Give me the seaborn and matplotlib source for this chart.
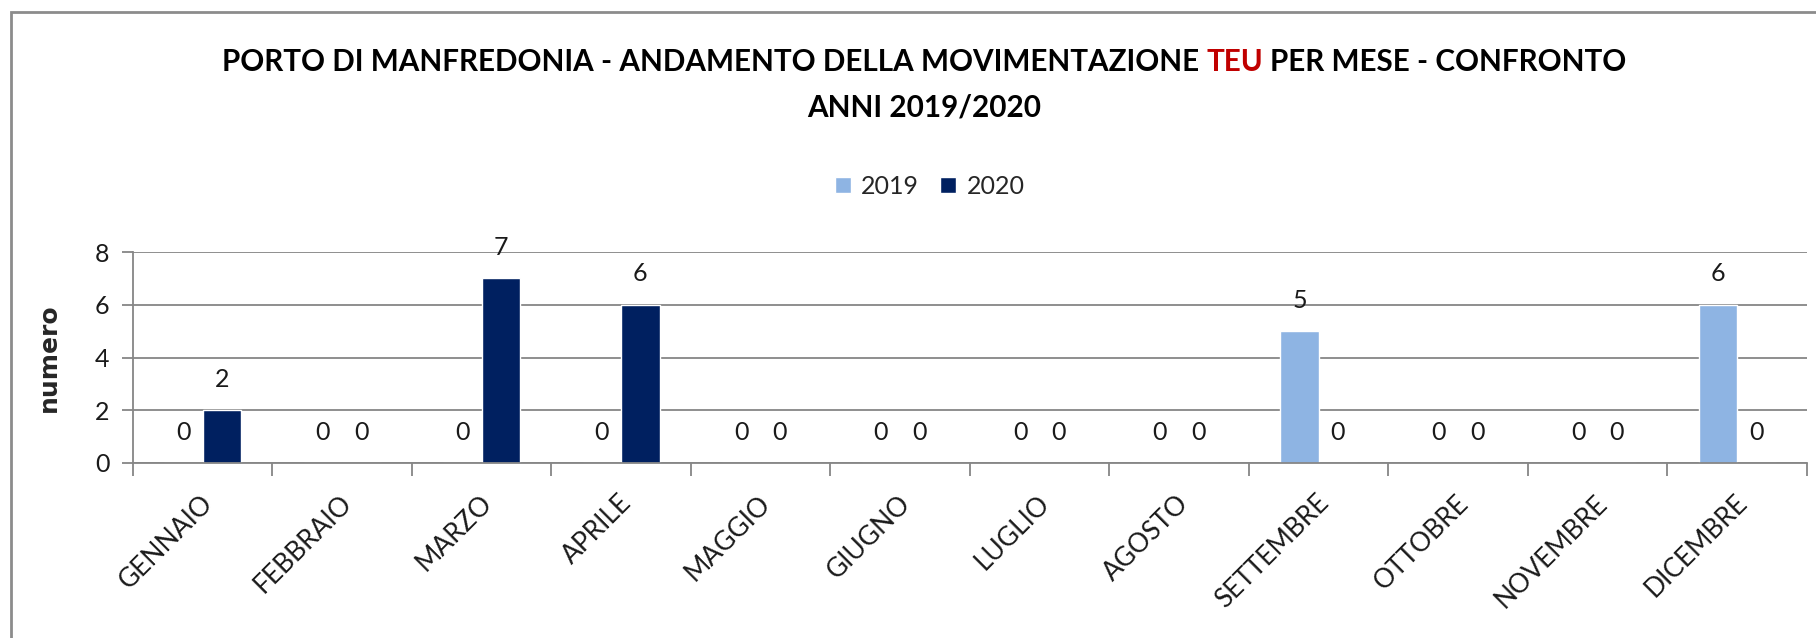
import pandas as pd
import matplotlib.pyplot as plt
import matplotlib.patches as mpatches
import matplotlib.transforms as mtransforms
import numpy as np
import seaborn as sns

mesi = ["GENNAIO", "FEBBRAIO", "MARZO", "APRILE", "MAGGIO", "GIUGNO",
        "LUGLIO", "AGOSTO", "SETTEMBRE", "OTTOBRE", "NOVEMBRE", "DICEMBRE"]
teu_2019 = [0, 0, 0, 0, 0, 0, 0, 0, 5, 0, 0, 6]
teu_2020 = [2, 0, 7, 6, 0, 0, 0, 0, 0, 0, 0, 0]
anni = ["2019", "2020"]
colori = ["#8EB4E3", "#002060"]
y_ticks = [0, 2, 4, 6, 8]

df = pd.DataFrame({
    "mese": mesi * 2,
    "valore": teu_2019 + teu_2020,
    "anno": [anni[0]] * 12 + [anni[1]] * 12,
})

sns.set_style("white")
plt.rcParams["font.family"] = ["Lato", "DejaVu Sans"]

fig = plt.figure(figsize=(18.16, 6.38), dpi=100)
ax = fig.add_axes([0.0732, 0.2743, 0.9218, 0.3307])

sns.barplot(data=df, x="mese", y="valore", hue="anno", order=mesi,
            hue_order=anni, palette=colori, saturation=1, width=0.55,
            gap=0, ax=ax, legend=True)

for cont in ax.containers:
    ax.bar_label(cont, fmt="%g", padding=14, fontsize=18, color="#1a1a1a")

gray = "#868686"
ax.set_ylim(0, 8)
ax.set_yticks(y_ticks)
ax.set_xlim(-0.5, 11.5)
ax.yaxis.grid(True, color=gray, linewidth=1.3)
ax.set_axisbelow(True)
for s in ["top", "right"]:
    ax.spines[s].set_visible(False)
for s in ["left", "bottom"]:
    ax.spines[s].set_color(gray)
    ax.spines[s].set_linewidth(1.3)

ax.tick_params(axis="y", length=8, width=1.3, color=gray, labelsize=18,
               pad=9, left=True, labelcolor="#1a1a1a")
ax.tick_params(axis="x", which="major", length=0, labelsize=19, pad=26,
               bottom=True, labelcolor="#1a1a1a")
ax.set_xticks(np.arange(-0.5, 12, 1), minor=True)
ax.tick_params(axis="x", which="minor", length=9, width=1.3, color=gray, bottom=True)
sposta = mtransforms.ScaledTranslation(6 / 100, 0, fig.dpi_scale_trans)
for lab in ax.get_xticklabels():
    lab.set_rotation(45)
    lab.set_ha("right")
    lab.set_va("center")
    lab.set_rotation_mode("anchor")
    lab.set_transform(lab.get_transform() + sposta)

ax.set_xlabel("")
ax.set_ylabel("numero", fontsize=18, fontweight="bold", family="DejaVu Sans")
ax.yaxis.set_label_coords(-0.043, 0.5)

handles, labels = ax.get_legend_handles_labels()
ax.legend(handles, labels, loc="center", bbox_to_anchor=(0.512, 0.708),
          bbox_transform=fig.transFigure, ncol=2, frameon=False,
          fontsize=18, handlelength=0.62, handleheight=0.62,
          handletextpad=0.42, columnspacing=0.85)

# titolo con TEU in rosso
fig.canvas.draw()
r = fig.canvas.get_renderer()
tkw = dict(fontsize=21.3, fontweight="bold", va="center")
riga1 = "PORTO DI MANFREDONIA - ANDAMENTO DELLA MOVIMENTAZIONE TEU PER MESE - CONFRONTO"
p1 = "PORTO DI MANFREDONIA - ANDAMENTO DELLA MOVIMENTAZIONE"
p2 = "TEU"
p3 = "PER MESE - CONFRONTO"
def w(s):
    t = fig.text(0, 0, s, **tkw)
    bb = t.get_window_extent(r)
    t.remove()
    return bb.width
cx = 0.509 * fig.bbox.width
yt = 1 - 62 / 638
x0 = cx - w(riga1) / 2
fig.text(x0 / fig.bbox.width, yt, p1, ha="left", color="black", **tkw)
x2 = x0 + w(p1 + " " + p2) - w(p2)
fig.text(x2 / fig.bbox.width, yt, p2, ha="left", color="#C00000", **tkw)
x3 = x0 + w(riga1) - w(p3)
fig.text(x3 / fig.bbox.width, yt, p3, ha="left", color="black", **tkw)
fig.text(0.509, 1 - 108 / 638, "ANNI 2019/2020", ha="center", color="black", **tkw)

# cornice del grafico
fig.patches.append(mpatches.Rectangle((11 / 1816, -0.05), 1.1, 1 - 12 / 638 + 0.05,
                                      transform=fig.transFigure, fill=False,
                                      edgecolor="#8c8c8c", linewidth=2))

fig.savefig("out.png", dpi=100)
